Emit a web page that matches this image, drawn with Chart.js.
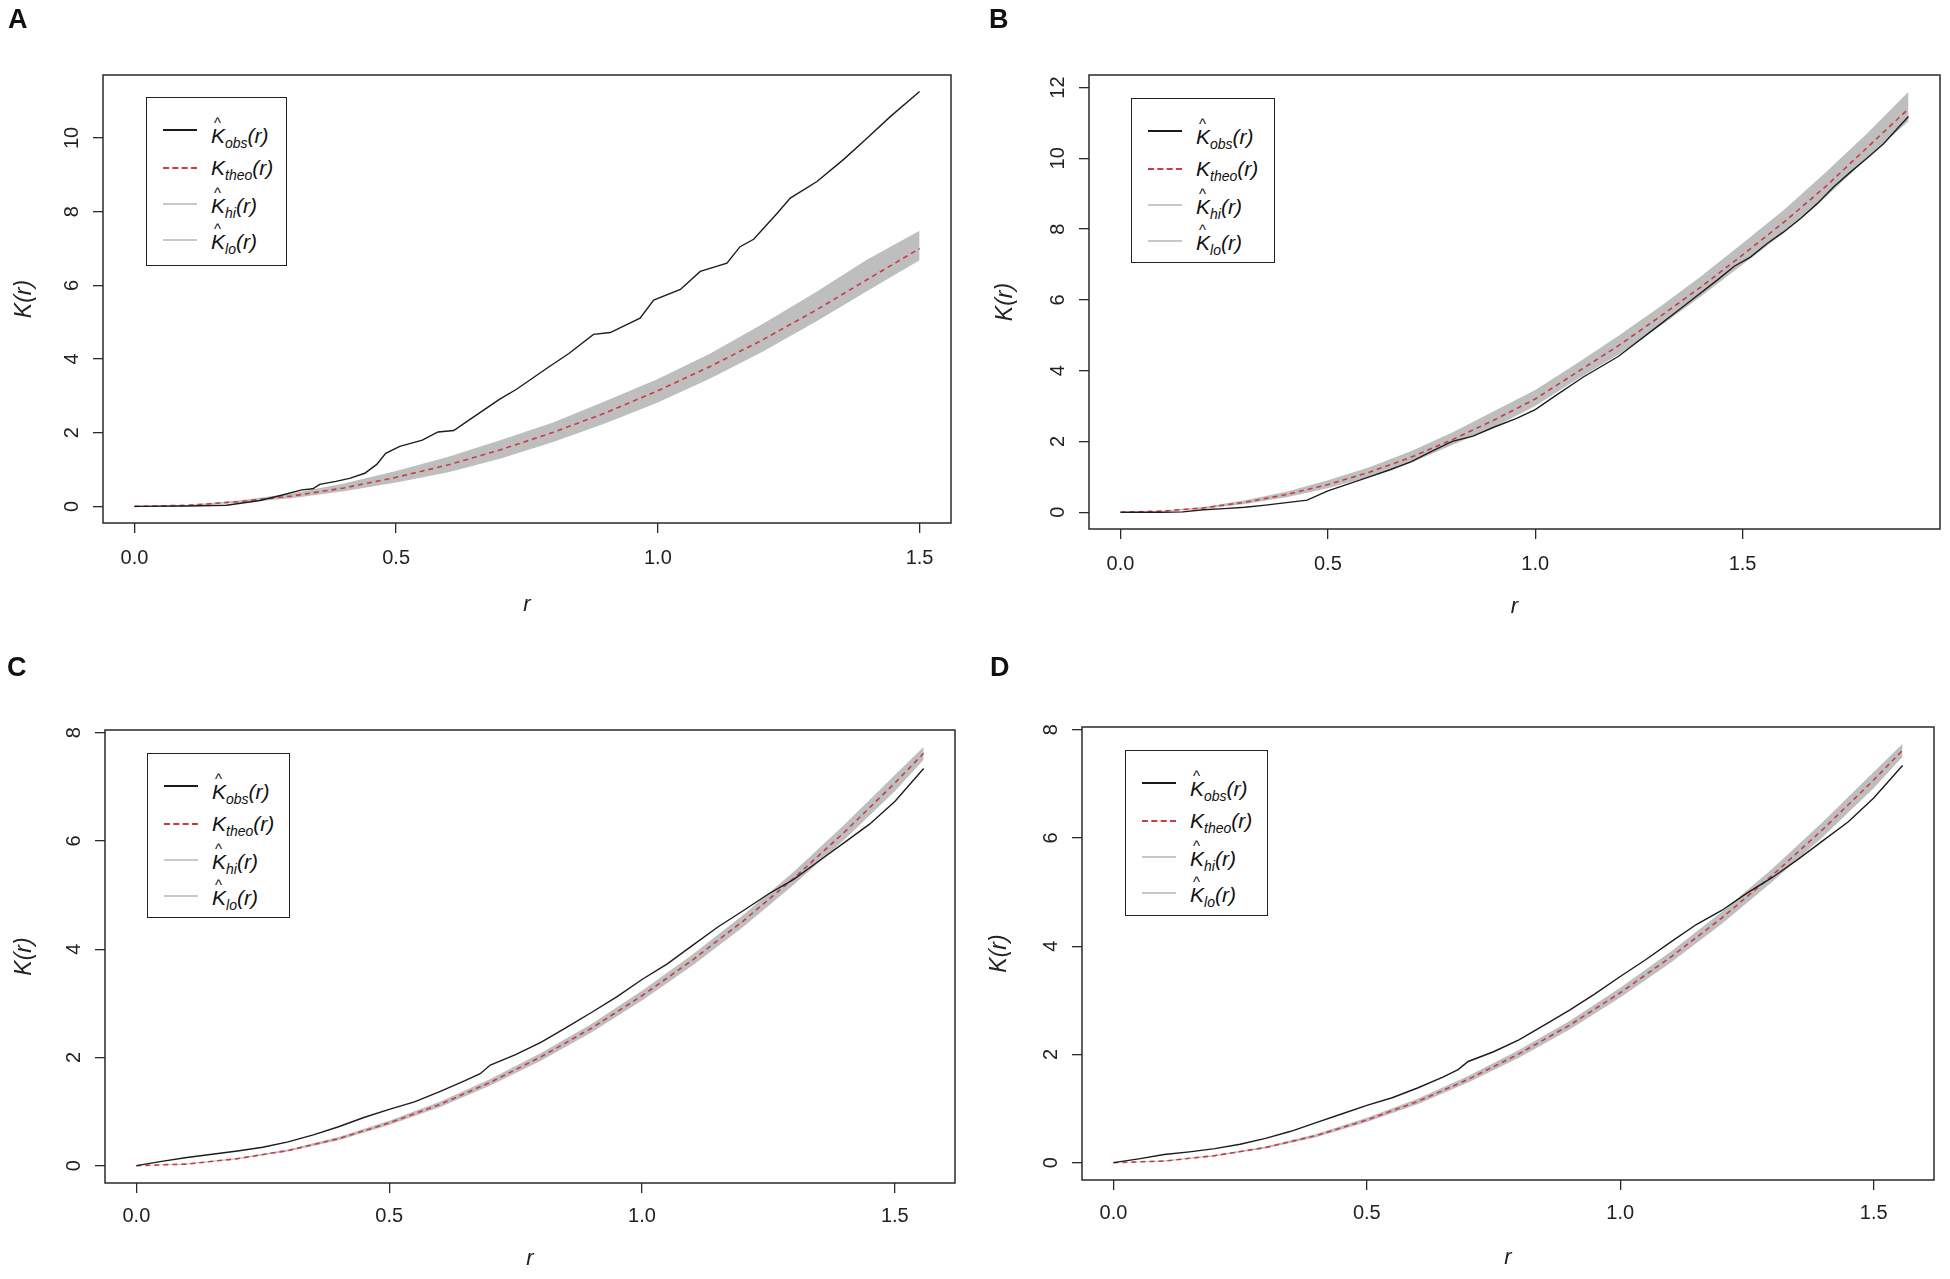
<!DOCTYPE html>
<html>
<head>
<meta charset="utf-8">
<script src="https://cdn.jsdelivr.net/npm/chart.js@4.4.1/dist/chart.umd.min.js"></script>
<style>
body { margin:0; background:#fff; width:1950px; height:1279px; position:relative; overflow:hidden; }
.panel { position:absolute; width:975px; height:640px; }
.panel canvas { position:absolute; left:0; top:0; }
.tag { position:absolute; font:bold 27px "Liberation Sans", Arial, sans-serif; line-height:27px; color:#111; }
.legend { position:absolute; border:1.5px solid #222; background:#fff; box-sizing:border-box; }
.sw { position:absolute; left:16px; width:34px; height:0; }
.lab { position:absolute; left:64px; font:italic 21px "Liberation Sans Narrow", "Liberation Sans", Arial, sans-serif; line-height:24px; color:#111; white-space:nowrap; }
.lab sub { font-size:14px; vertical-align:-5px; }
.hk { position:relative; display:inline-block; }
.hat { position:absolute; left:3px; top:-13px; font-size:15px; font-style:normal; }
</style>
</head>
<body>
<div class="panel" id="pA" style="left:0;top:0"><canvas id="cA" width="975" height="640"></canvas><div class="tag" style="left:8px;top:6px">A</div></div>
<div class="panel" id="pB" style="left:975px;top:0"><canvas id="cB" width="975" height="640"></canvas><div class="tag" style="left:14px;top:6px">B</div></div>
<div class="panel" id="pC" style="left:0;top:639px"><canvas id="cC" width="975" height="640"></canvas><div class="tag" style="left:7px;top:15px">C</div></div>
<div class="panel" id="pD" style="left:975px;top:639px"><canvas id="cD" width="975" height="640"></canvas><div class="tag" style="left:15px;top:15px">D</div></div>

<script>
// tick values
var xTicks = [0, 0.5, 1, 1.5];
var yTicksA = [0, 2, 4, 6, 8, 10];
var yTicksB = [0, 2, 4, 6, 8, 10, 12];
var yTicksCD = [0, 2, 4, 6, 8];

// panel A
var rObsA = [0, 0.1, 0.176, 0.24, 0.277, 0.32, 0.341, 0.354, 0.385, 0.411, 0.44, 0.463, 0.48, 0.507, 0.55, 0.58, 0.61, 0.646, 0.698, 0.73, 0.788, 0.83, 0.877, 0.909, 0.966, 0.992, 1.043, 1.081, 1.132, 1.157, 1.183, 1.228, 1.253, 1.304, 1.355, 1.4, 1.444, 1.5];
var kObsA = [0, 0.01, 0.03, 0.16, 0.29, 0.45, 0.48, 0.6, 0.68, 0.76, 0.9, 1.14, 1.44, 1.63, 1.8, 2.02, 2.06, 2.41, 2.91, 3.18, 3.75, 4.15, 4.67, 4.72, 5.11, 5.6, 5.89, 6.38, 6.6, 7.05, 7.25, 7.96, 8.37, 8.82, 9.42, 10.0, 10.58, 11.26];
var rEnvA = [0, 0.1, 0.2, 0.3, 0.4, 0.5, 0.6, 0.7, 0.8, 0.9, 1.0, 1.1, 1.2, 1.3, 1.4, 1.5];
var kTheoA = [0, 0.03, 0.13, 0.28, 0.5, 0.79, 1.13, 1.54, 2.01, 2.54, 3.14, 3.8, 4.52, 5.31, 6.16, 7.0];
var kHiA = [0, 0.04, 0.16, 0.35, 0.62, 0.96, 1.35, 1.8, 2.28, 2.86, 3.46, 4.15, 4.95, 5.8, 6.7, 7.48];
var kLoA = [0, 0.02, 0.1, 0.22, 0.41, 0.65, 0.93, 1.3, 1.75, 2.26, 2.82, 3.47, 4.2, 5.0, 5.85, 6.68];

// panel B
var rObsB = [0, 0.1, 0.15, 0.2, 0.25, 0.3, 0.35, 0.4, 0.45, 0.5, 0.55, 0.6, 0.65, 0.7, 0.75, 0.8, 0.85, 0.9, 0.955, 1.0, 1.05, 1.116, 1.2, 1.277, 1.35, 1.438, 1.48, 1.519, 1.56, 1.599, 1.64, 1.68, 1.72, 1.76, 1.8, 1.84, 1.88, 1.9];
var kObsB = [0, 0, 0.01, 0.07, 0.1, 0.14, 0.2, 0.27, 0.34, 0.6, 0.8, 1.0, 1.2, 1.42, 1.72, 2.0, 2.15, 2.4, 2.65, 2.9, 3.3, 3.82, 4.4, 5.09, 5.75, 6.55, 6.95, 7.21, 7.6, 7.92, 8.3, 8.72, 9.2, 9.61, 10.0, 10.41, 10.93, 11.18];
var rEnvB = [0, 0.1, 0.2, 0.3, 0.4, 0.5, 0.6, 0.7, 0.8, 0.9, 1.0, 1.1, 1.2, 1.3, 1.4, 1.5, 1.6, 1.7, 1.8, 1.9];
var kTheoB = [0, 0.03, 0.12, 0.28, 0.5, 0.78, 1.13, 1.55, 2.05, 2.6, 3.2, 3.95, 4.7, 5.52, 6.37, 7.27, 8.2, 9.2, 10.3, 11.4];
var kHiB = [0, 0.04, 0.15, 0.34, 0.58, 0.9, 1.27, 1.72, 2.25, 2.85, 3.45, 4.2, 4.98, 5.8, 6.67, 7.6, 8.55, 9.6, 10.7, 11.88];
var kLoB = [0, 0.02, 0.1, 0.23, 0.42, 0.68, 1.0, 1.4, 1.9, 2.4, 3.0, 3.75, 4.45, 5.25, 6.1, 7.0, 7.9, 8.9, 10.0, 11.05];

// panel C
var rObsC = [0, 0.05, 0.1, 0.15, 0.2, 0.25, 0.3, 0.35, 0.4, 0.45, 0.5, 0.55, 0.6, 0.65, 0.68, 0.7, 0.75, 0.8, 0.85, 0.9, 0.95, 1.0, 1.05, 1.1, 1.15, 1.2, 1.25, 1.3, 1.35, 1.4, 1.45, 1.5, 1.557];
var kObsC = [0, 0.08, 0.15, 0.21, 0.27, 0.34, 0.44, 0.57, 0.72, 0.89, 1.04, 1.18, 1.37, 1.57, 1.7, 1.86, 2.05, 2.28, 2.55, 2.83, 3.12, 3.44, 3.73, 4.07, 4.41, 4.71, 5.02, 5.29, 5.63, 5.97, 6.31, 6.73, 7.34];
var rEnvC = [0, 0.1, 0.2, 0.3, 0.4, 0.5, 0.6, 0.7, 0.8, 0.9, 1.0, 1.1, 1.2, 1.3, 1.4, 1.5, 1.557];
var kTheoC = [0, 0.03, 0.13, 0.28, 0.5, 0.79, 1.13, 1.54, 2.01, 2.54, 3.14, 3.8, 4.52, 5.31, 6.16, 7.07, 7.62];
var kHiC = [0, 0.04, 0.14, 0.3, 0.53, 0.83, 1.18, 1.6, 2.08, 2.62, 3.23, 3.9, 4.63, 5.43, 6.3, 7.22, 7.74];
var kLoC = [0, 0.02, 0.12, 0.26, 0.47, 0.75, 1.08, 1.48, 1.94, 2.46, 3.05, 3.7, 4.41, 5.19, 6.02, 6.92, 7.5];

// panel D
var rObsD = [0, 0.05, 0.1, 0.15, 0.2, 0.25, 0.3, 0.35, 0.4, 0.45, 0.5, 0.55, 0.6, 0.65, 0.68, 0.7, 0.75, 0.8, 0.85, 0.9, 0.95, 1.0, 1.05, 1.1, 1.15, 1.2, 1.25, 1.3, 1.35, 1.4, 1.45, 1.5, 1.557];
var kObsD = [0, 0.07, 0.15, 0.2, 0.26, 0.34, 0.45, 0.58, 0.74, 0.9, 1.06, 1.2, 1.38, 1.58, 1.72, 1.87, 2.05, 2.27, 2.54, 2.82, 3.12, 3.44, 3.75, 4.08, 4.4, 4.66, 4.98, 5.27, 5.6, 5.95, 6.3, 6.74, 7.34];
var rEnvD = [0, 0.1, 0.2, 0.3, 0.4, 0.5, 0.6, 0.7, 0.8, 0.9, 1.0, 1.1, 1.2, 1.3, 1.4, 1.5, 1.557];
var kTheoD = [0, 0.03, 0.13, 0.28, 0.5, 0.79, 1.13, 1.54, 2.01, 2.54, 3.14, 3.8, 4.52, 5.31, 6.16, 7.07, 7.62];
var kHiD = [0, 0.04, 0.14, 0.3, 0.53, 0.83, 1.18, 1.6, 2.08, 2.62, 3.23, 3.9, 4.63, 5.43, 6.3, 7.22, 7.74];
var kLoD = [0, 0.02, 0.12, 0.26, 0.47, 0.75, 1.08, 1.48, 1.94, 2.46, 3.05, 3.7, 4.41, 5.19, 6.02, 6.92, 7.5];

var tickFamily = '"Liberation Sans Narrow", "Liberation Sans", Arial, sans-serif';

function pts(xs, ys) {
    return xs.map(function(x, i) { return {x: x, y: ys[i]}; });
}

// R style frame round the plot region, and y tick labels turned like R's las=0
var boxPlugin = {
    id: 'rbox',
    afterDraw: function(chart) {
        var a = chart.chartArea, ctx = chart.ctx, ys = chart.scales.y;
        ctx.save();
        ctx.strokeStyle = '#2a2a2a';
        ctx.lineWidth = 1.5;
        ctx.strokeRect(a.left, a.top, a.right - a.left, a.bottom - a.top);
        ctx.fillStyle = '#222';
        ctx.font = '20px ' + tickFamily;
        ctx.textAlign = 'center';
        ctx.textBaseline = 'middle';
        ys.ticks.forEach(function(t) {
            ctx.save();
            ctx.translate(a.left - 31, ys.getPixelForValue(t.value));
            ctx.rotate(-Math.PI / 2);
            ctx.fillText(String(t.value), 0, 0);
            ctx.restore();
        });
        ctx.restore();
    }
};

function legendHtml(p) {
    var rows = [
        {sw: 'border-top:2px solid #1a1a1a', swY: 33, y: 39, html: '<span class="hk">K<span class="hat">^</span></span><sub>obs</sub>(r)'},
        {sw: 'border-top:2px dashed #cc3b44', swY: 71, y: 71, html: 'K<sub>theo</sub>(r)'},
        {sw: 'border-top:2px solid #c8c8c8', swY: 107, y: 109, html: '<span class="hk">K<span class="hat">^</span></span><sub>hi</sub>(r)'},
        {sw: 'border-top:2px solid #c8c8c8', swY: 143, y: 145, html: '<span class="hk">K<span class="hat">^</span></span><sub>lo</sub>(r)'}
    ];
    var s = '<div class="legend" style="left:' + p.lx + 'px;top:' + p.ly + 'px;width:' + p.lw + 'px;height:' + p.lh + 'px">';
    rows.forEach(function(r) {
        s += '<div class="sw" style="top:' + (r.swY - 2) + 'px;' + r.sw + '"></div>';
        s += '<div class="lab" style="top:' + (r.y - 13) + 'px">' + r.html + '</div>';
    });
    return s + '</div>';
}

/*=============================================
=            one panel                         =
=============================================*/
function makePanel(p) {
    document.getElementById(p.panel).insertAdjacentHTML('beforeend', legendHtml(p));

    new Chart(document.getElementById(p.canvas), {
        type: 'line',
        data: {
            datasets: [
                { label: 'obs', data: pts(p.rObs, p.kObs), borderColor: '#1c1c1c', borderWidth: 1.4, pointRadius: 0, fill: false, order: 0 },
                { label: 'theo', data: pts(p.rEnv, p.kTheo), borderColor: '#cc3b44', borderWidth: 1.6, borderDash: [5, 4], pointRadius: 0, fill: false, order: 1 },
                { label: 'hi', data: pts(p.rEnv, p.kHi), borderColor: 'rgba(0,0,0,0)', borderWidth: 0, backgroundColor: '#bebebe', pointRadius: 0, fill: '+1', order: 2 },
                { label: 'lo', data: pts(p.rEnv, p.kLo), borderColor: 'rgba(0,0,0,0)', borderWidth: 0, backgroundColor: '#bebebe', pointRadius: 0, fill: false, order: 3 }
            ]
        },
        options: {
            responsive: false,
            animation: false,
            devicePixelRatio: 1,
            layout: { padding: { left: 0, top: p.top, right: 975 - p.right, bottom: 0 } },
            plugins: { legend: { display: false }, tooltip: { enabled: false } },
            scales: {
                x: {
                    type: 'linear',
                    min: p.xmin, max: p.xmax,
                    afterFit: function(s) { s.height = 640 - p.bottom; },
                    afterBuildTicks: function(s) { s.ticks = xTicks.map(function(v) { return {value: v}; }); },
                    grid: { display: true, drawOnChartArea: false, drawTicks: true, tickLength: 10, color: '#2a2a2a', lineWidth: 1.3 },
                    border: { display: false },
                    ticks: {
                        autoSkip: false, maxRotation: 0, padding: p.xPad, color: '#222',
                        font: { family: tickFamily, size: 20 },
                        callback: function(v) { return Number(v).toFixed(1); }
                    },
                    title: { display: true, text: 'r', color: '#222', font: { family: tickFamily, size: 22, style: 'italic' }, padding: { top: 0, bottom: p.rPad } }
                },
                y: {
                    type: 'linear',
                    min: p.ymin, max: p.ymax,
                    afterFit: function(s) { s.width = p.left; },
                    afterBuildTicks: function(s) { s.ticks = p.yTicks.map(function(v) { return {value: v}; }); },
                    grid: { display: true, drawOnChartArea: false, drawTicks: true, tickLength: 10, color: '#2a2a2a', lineWidth: 1.3 },
                    border: { display: false },
                    ticks: { display: false, autoSkip: false },
                    title: { display: true, text: 'K(r)', color: '#222', font: { family: tickFamily, size: 23, style: 'italic' }, padding: { top: p.kPad, bottom: 0 } }
                }
            }
        },
        plugins: [boxPlugin]
    });
}
/*=====  End of one panel  ======*/

makePanel({ panel: 'pA', canvas: 'cA', rObs: rObsA, kObs: kObsA, rEnv: rEnvA, kTheo: kTheoA, kHi: kHiA, kLo: kLoA, yTicks: yTicksA,
    left: 103, top: 75, right: 951, bottom: 523, xmin: -0.06, xmax: 1.56, ymin: -0.45, ymax: 11.71,
    xPad: 13, rPad: 22, kPad: 11, lx: 146, ly: 97, lw: 141, lh: 169 });
makePanel({ panel: 'pB', canvas: 'cB', rObs: rObsB, kObs: kObsB, rEnv: rEnvB, kTheo: kTheoB, kHi: kHiB, kLo: kLoB, yTicks: yTicksB,
    left: 114, top: 75, right: 965, bottom: 529, xmin: -0.076, xmax: 1.976, ymin: -0.475, ymax: 12.355,
    xPad: 13, rPad: 20, kPad: 17, lx: 156, ly: 98, lw: 144, lh: 165 });
makePanel({ panel: 'pC', canvas: 'cC', rObs: rObsC, kObs: kObsC, rEnv: rEnvC, kTheo: kTheoC, kHi: kHiC, kLo: kLoC, yTicks: yTicksCD,
    left: 105, top: 91, right: 955, bottom: 544, xmin: -0.062, xmax: 1.619, ymin: -0.32, ymax: 8.05,
    xPad: 11, rPad: 7, kPad: 11, lx: 147, ly: 114, lw: 143, lh: 165 });
makePanel({ panel: 'pD', canvas: 'cD', rObs: rObsD, kObs: kObsD, rEnv: rEnvD, kTheo: kTheoD, kHi: kHiD, kLo: kLoD, yTicks: yTicksCD,
    left: 107, top: 88, right: 959, bottom: 541, xmin: -0.062, xmax: 1.619, ymin: -0.32, ymax: 8.05,
    xPad: 11, rPad: 8, kPad: 11, lx: 150, ly: 111, lw: 143, lh: 166 });
</script>
</body>
</html>
